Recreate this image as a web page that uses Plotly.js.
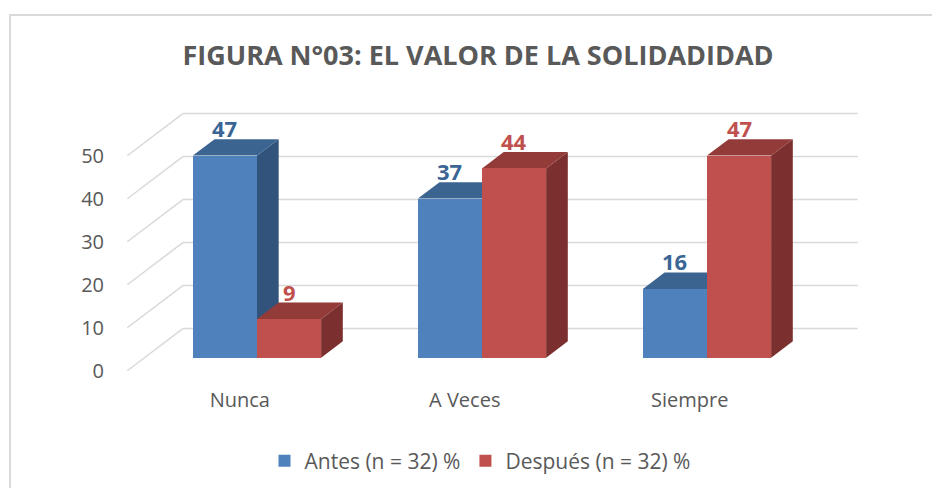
<!DOCTYPE html>
<html>
<head>
<meta charset="utf-8">
<script src="https://cdn.plot.ly/plotly-3.0.1.min.js"></script>
<style>
  html, body { margin: 0; padding: 0; background: #fff; overflow: hidden; }
  #chart { width: 932px; height: 488px; }
  #frame { position: absolute; left: 9px; top: 14px; right: -20px; bottom: -20px;
           border: 2px solid #d9d9d9; pointer-events: none; }
</style>
</head>
<body>
<div id="chart"></div>
<div id="frame"></div>
<script>
// ---- data ----
const CATEGORIES = ['Nunca', 'A Veces', 'Siempre'];
const ANTES = [47, 37, 16];
const DESPUES = [9, 44, 47];
const SERIES_NAMES = ['Antes (n = 32) %', 'Después (n = 32) %'];
const Y_TICKS = [0, 10, 20, 30, 40, 50];
const TITLE = 'FIGURA N°03: EL VALOR DE LA SOLIDADIDAD';

// ---- styling / pseudo-3D geometry ----
const FRONT = ['#4f81bd', '#c0504d'];
const TOP = ['#3c6491', '#933b39'];
const SIDE = ['#31537c', '#7b2f2e'];
const LABEL = ['#3a6594', '#c0504d'];
const GRID = '#d9d9d9';
const TXT = '#595959';
const FONT = 'Open Sans, Noto Sans, sans-serif';

const X_RANGE = [-0.6089, 2.7689];
const Y_RANGE = [-5.186, 61.09];
const DX = 0.247, DY = 9.8;          // axis units per unit depth
const Z_BAR0 = 0.31, Z_BAR1 = 0.70;  // bar depth span (0 = front, 1 = back wall)
const BAR_W = 0.285;
const WALL_X = [-0.5, 2.5];

function proj(c, v, z) { return [c + DX * (z - Z_BAR0), v + DY * (z - Z_BAR0)]; }

const series = [ANTES, DESPUES];
const offsets = [-BAR_W, 0];

const traces = series.map((vals, s) => ({
  type: 'bar', name: SERIES_NAMES[s], x: CATEGORIES, y: vals,
  width: BAR_W, offset: offsets[s],
  marker: { color: FRONT[s], line: { width: 0 } },
  hoverinfo: 'skip', xaxis: 'x', yaxis: 'y'
}));
// invisible trace to carry the front-plane axes (tick labels)
traces.push({ type: 'scatter', x: CATEGORIES, y: ANTES, xaxis: 'x2', yaxis: 'y2',
  mode: 'markers', marker: { opacity: 0 }, showlegend: false, hoverinfo: 'skip' });

const shapes = [];
// back wall gridlines + left-side depth lines
Y_TICKS.forEach(t => {
  const f = proj(WALL_X[0], t, 0), b = proj(WALL_X[0], t, 1), r = proj(WALL_X[1], t, 1);
  shapes.push({ type: 'line', xref: 'x', yref: 'y', x0: f[0], y0: f[1], x1: b[0], y1: b[1],
    line: { color: GRID, width: 1.5 }, layer: 'below' });
  shapes.push({ type: 'line', xref: 'x', yref: 'y', x0: b[0], y0: b[1], x1: r[0], y1: r[1],
    line: { color: GRID, width: 1.5 }, layer: 'below' });
});
// top and side faces
const ddx = DX * (Z_BAR1 - Z_BAR0), ddy = DY * (Z_BAR1 - Z_BAR0);
series.forEach((vals, s) => {
  vals.forEach((v, i) => {
    const xl = i + offsets[s], xr = xl + BAR_W;
    const side = `M${xr},0 L${xr},${v} L${xr + ddx},${v + ddy} L${xr + ddx},${ddy} Z`;
    const top = `M${xl},${v} L${xr},${v} L${xr + ddx},${v + ddy} L${xl + ddx},${v + ddy} Z`;
    shapes.push({ type: 'path', xref: 'x', yref: 'y', path: side, fillcolor: SIDE[s],
      line: { width: 0 }, layer: 'below' });
    shapes.push({ type: 'path', xref: 'x', yref: 'y', path: top, fillcolor: TOP[s],
      line: { width: 0 }, layer: 'below' });
  });
});

const annotations = [];
series.forEach((vals, s) => {
  vals.forEach((v, i) => {
    annotations.push({ xref: 'x', yref: 'y', x: i + offsets[s] + BAR_W / 2, y: v + ddy,
      text: '<b>' + v + '</b>', showarrow: false, yanchor: 'middle', yshift: 11,
      font: { family: FONT, size: 22, color: LABEL[s] } });
  });
});

const layout = {
  width: 932, height: 488,
  margin: { l: 120, r: 52, t: 95, b: 108 },
  paper_bgcolor: '#fff', plot_bgcolor: 'rgba(0,0,0,0)',
  title: { text: '<b>' + TITLE + '</b>', xref: 'container', x: 478 / 932, xanchor: 'center',
    yref: 'container', y: 1 - 56 / 488, yanchor: 'middle',
    font: { family: FONT, size: 27, color: TXT } },
  showlegend: true,
  legend: { orientation: 'h', xref: 'container', x: 480 / 932, xanchor: 'center',
    yref: 'container', y: 1 - 461 / 488, yanchor: 'middle',
    font: { family: FONT, size: 21, color: TXT } },
  xaxis: { type: 'category', range: X_RANGE, showgrid: false, zeroline: false,
    showline: false, showticklabels: false, ticks: '', fixedrange: true },
  yaxis: { range: Y_RANGE, showgrid: false, zeroline: false, showline: false,
    showticklabels: false, ticks: '', fixedrange: true },
  xaxis2: { type: 'category', overlaying: 'x', anchor: 'y2', side: 'bottom',
    range: [X_RANGE[0] - DX * (0 - Z_BAR0), X_RANGE[1] - DX * (0 - Z_BAR0)],
    showgrid: false, zeroline: false, showline: false, ticks: 'outside', ticklen: 2,
    tickcolor: 'rgba(0,0,0,0)', tickfont: { family: FONT, size: 20, color: TXT } },
  yaxis2: { overlaying: 'y', anchor: 'x2', side: 'left',
    range: [Y_RANGE[0] - DY * (0 - Z_BAR0), Y_RANGE[1] - DY * (0 - Z_BAR0)],
    tickmode: 'array', tickvals: Y_TICKS, ticktext: Y_TICKS.map(String),
    showgrid: false, zeroline: false, showline: false, ticks: 'outside', ticklen: 11,
    tickcolor: 'rgba(0,0,0,0)', tickfont: { family: FONT, size: 20, color: TXT } },
  shapes: shapes,
  annotations: annotations,
  bargap: 0, hovermode: false
};

Plotly.newPlot('chart', traces, layout, { staticPlot: true, displayModeBar: false });
</script>
</body>
</html>
